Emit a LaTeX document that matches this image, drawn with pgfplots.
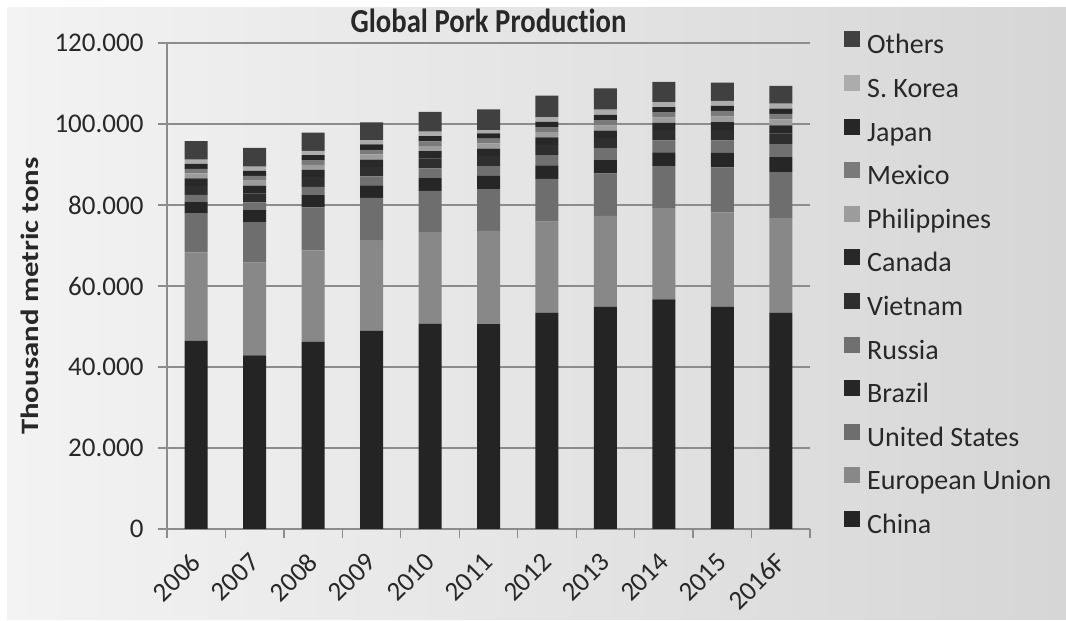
\documentclass[border=0pt]{standalone}
\usepackage{fontspec}
\setmainfont{Carlito}[Ligatures=CommonOff]
\usepackage{graphicx}
\usepackage{pgfplots}
\usepackage{pgfplotstable}
\pgfplotsset{compat=1.18}

\definecolor{panelL}{RGB}{243,243,243}
\definecolor{panelM}{RGB}{236,236,236}
\definecolor{panelR}{RGB}{214,214,214}
\definecolor{axc}{RGB}{140,140,140}
\definecolor{txt}{RGB}{40,40,40}
\definecolor{cChina}{RGB}{36,36,36}
\definecolor{cEU}{RGB}{136,136,136}
\definecolor{cUS}{RGB}{110,110,110}
\definecolor{cBrazil}{RGB}{38,38,38}
\definecolor{cRussia}{RGB}{112,112,112}
\definecolor{cVietnam}{RGB}{46,46,46}
\definecolor{cCanada}{RGB}{40,40,40}
\definecolor{cPhil}{RGB}{156,156,156}
\definecolor{cMexico}{RGB}{122,122,122}
\definecolor{cJapan}{RGB}{38,38,38}
\definecolor{cKorea}{RGB}{172,172,172}
\definecolor{cOthers}{RGB}{64,64,64}

\pgfplotstableread{
idx China EU US Brazil Russia Vietnam Canada Philippines Mexico Japan Korea Others
0 46500 21800 9560  2830 1810 2200 1900 1220 1110 1250 1000 4620
1 42900 22900 9960  2990 1910 2200 1900 1250 1150 1250 1040 4650
2 46200 22600 10600 3020 2040 2400 1800 1230 1160 1250 1060 4540
3 48900 22400 10440 3130 2170 2400 1790 1240 1160 1310 1060 4400
4 50700 22600 10190 3240 2330 2450 1770 1260 1170 1290 1110 4890
5 50600 23000 10330 3230 2430 2500 1810 1290 1200 1270 840  5100
6 53400 22500 10550 3330 2560 2500 1840 1310 1240 1300 1090 5380
7 54900 22400 10530 3370 2820 2500 1820 1340 1280 1310 1250 5280
8 56700 22500 10370 3400 2970 2550 1800 1350 1290 1260 1200 5010
9 54900 23300 11120 3520 3100 2600 1900 1460 1320 1250 1220 4510
10 53400 23400 11300 3700 3250 2650 1950 1500 1370 1270 1250 4360
}\datatable

\begin{document}
\begin{tikzpicture}[x=1pt,y=1pt]
\fill[white] (0,0) rectangle (1066,621);
\shade[left color=panelL, middle color=panelM, right color=panelR] (7,1) rectangle (1066,613);
\begin{axis}[
  at={(167pt,92pt)}, anchor=south west,
  scale only axis, width=643pt, height=486pt,
  ybar stacked, bar width=23pt,
  xmin=-0.5, xmax=10.5, ymin=0, ymax=120000,
  scaled y ticks=false,
  xtick={-0.5,0.5,...,10.5},
  x tick label as interval,
  xticklabels={2006,2007,2008,2009,2010,2011,2012,2013,2014,2015,2016F},
  ytick={0,20000,40000,60000,80000,100000,120000},
  yticklabels={0,20.000,40.000,60.000,80.000,100.000,120.000},
  tick align=outside, major tick length=9pt,
  axis x line*=bottom, axis y line*=left,
  axis line style={draw=axc, line width=1.3pt},
  every tick/.style={draw=axc, line width=1.3pt},
  ymajorgrids, grid style={draw=axc, line width=1.3pt},
  tick label style={font=\fontsize{27}{32}\selectfont, text=txt},
  yticklabel style={xshift=-11pt},
  xticklabel style={yshift=-20pt, rotate=45, anchor=east, inner sep=0pt},
  ylabel={\scalebox{1.23}[1]{Thousand metric tons}},
  ylabel style={font=\bfseries\fontsize{25}{30}\selectfont, text=txt, at={(axis description cs:-0.213,0.479)}, anchor=center},
  reverse legend,
  legend cell align=left,
  legend image code/.code={\fill[#1] (0pt,0pt) rectangle (16pt,16pt);},
  legend style={at={(axis description cs:1.0482,1.0282)}, anchor=north west, draw=none, fill=none,
    font=\fontsize{28}{33}\selectfont, text=txt, row sep=15.1pt, column sep=0pt,
    nodes={inner sep=0pt, text height=19pt, text depth=6pt}},
]
\addplot[fill=cChina, draw=none] table[x=idx,y=China]{\datatable};
\addlegendentry{\hspace{7pt}China}
\addplot[fill=cEU, draw=none] table[x=idx,y=EU]{\datatable};
\addlegendentry{\hspace{7pt}European Union}
\addplot[fill=cUS, draw=none] table[x=idx,y=US]{\datatable};
\addlegendentry{\hspace{7pt}United States}
\addplot[fill=cBrazil, draw=none] table[x=idx,y=Brazil]{\datatable};
\addlegendentry{\hspace{7pt}Brazil}
\addplot[fill=cRussia, draw=none] table[x=idx,y=Russia]{\datatable};
\addlegendentry{\hspace{7pt}Russia}
\addplot[fill=cVietnam, draw=none] table[x=idx,y=Vietnam]{\datatable};
\addlegendentry{\hspace{7pt}Vietnam}
\addplot[fill=cCanada, draw=none] table[x=idx,y=Canada]{\datatable};
\addlegendentry{\hspace{7pt}Canada}
\addplot[fill=cPhil, draw=none] table[x=idx,y=Philippines]{\datatable};
\addlegendentry{\hspace{7pt}Philippines}
\addplot[fill=cMexico, draw=none] table[x=idx,y=Mexico]{\datatable};
\addlegendentry{\hspace{7pt}Mexico}
\addplot[fill=cJapan, draw=none] table[x=idx,y=Japan]{\datatable};
\addlegendentry{\hspace{7pt}Japan}
\addplot[fill=cKorea, draw=none] table[x=idx,y=Korea]{\datatable};
\addlegendentry{\hspace{7pt}S. Korea}
\addplot[fill=cOthers, draw=none] table[x=idx,y=Others]{\datatable};
\addlegendentry{\hspace{7pt}Others}
\end{axis}
\node[anchor=base, inner sep=0pt, text=txt, font=\bfseries\fontsize{28.7}{34}\selectfont] at (488.5,588) {\scalebox{1}[1.17]{Global Pork Production}};
\pgfresetboundingbox
\useasboundingbox (0,0) rectangle (1066,621);
\end{tikzpicture}
\end{document}
